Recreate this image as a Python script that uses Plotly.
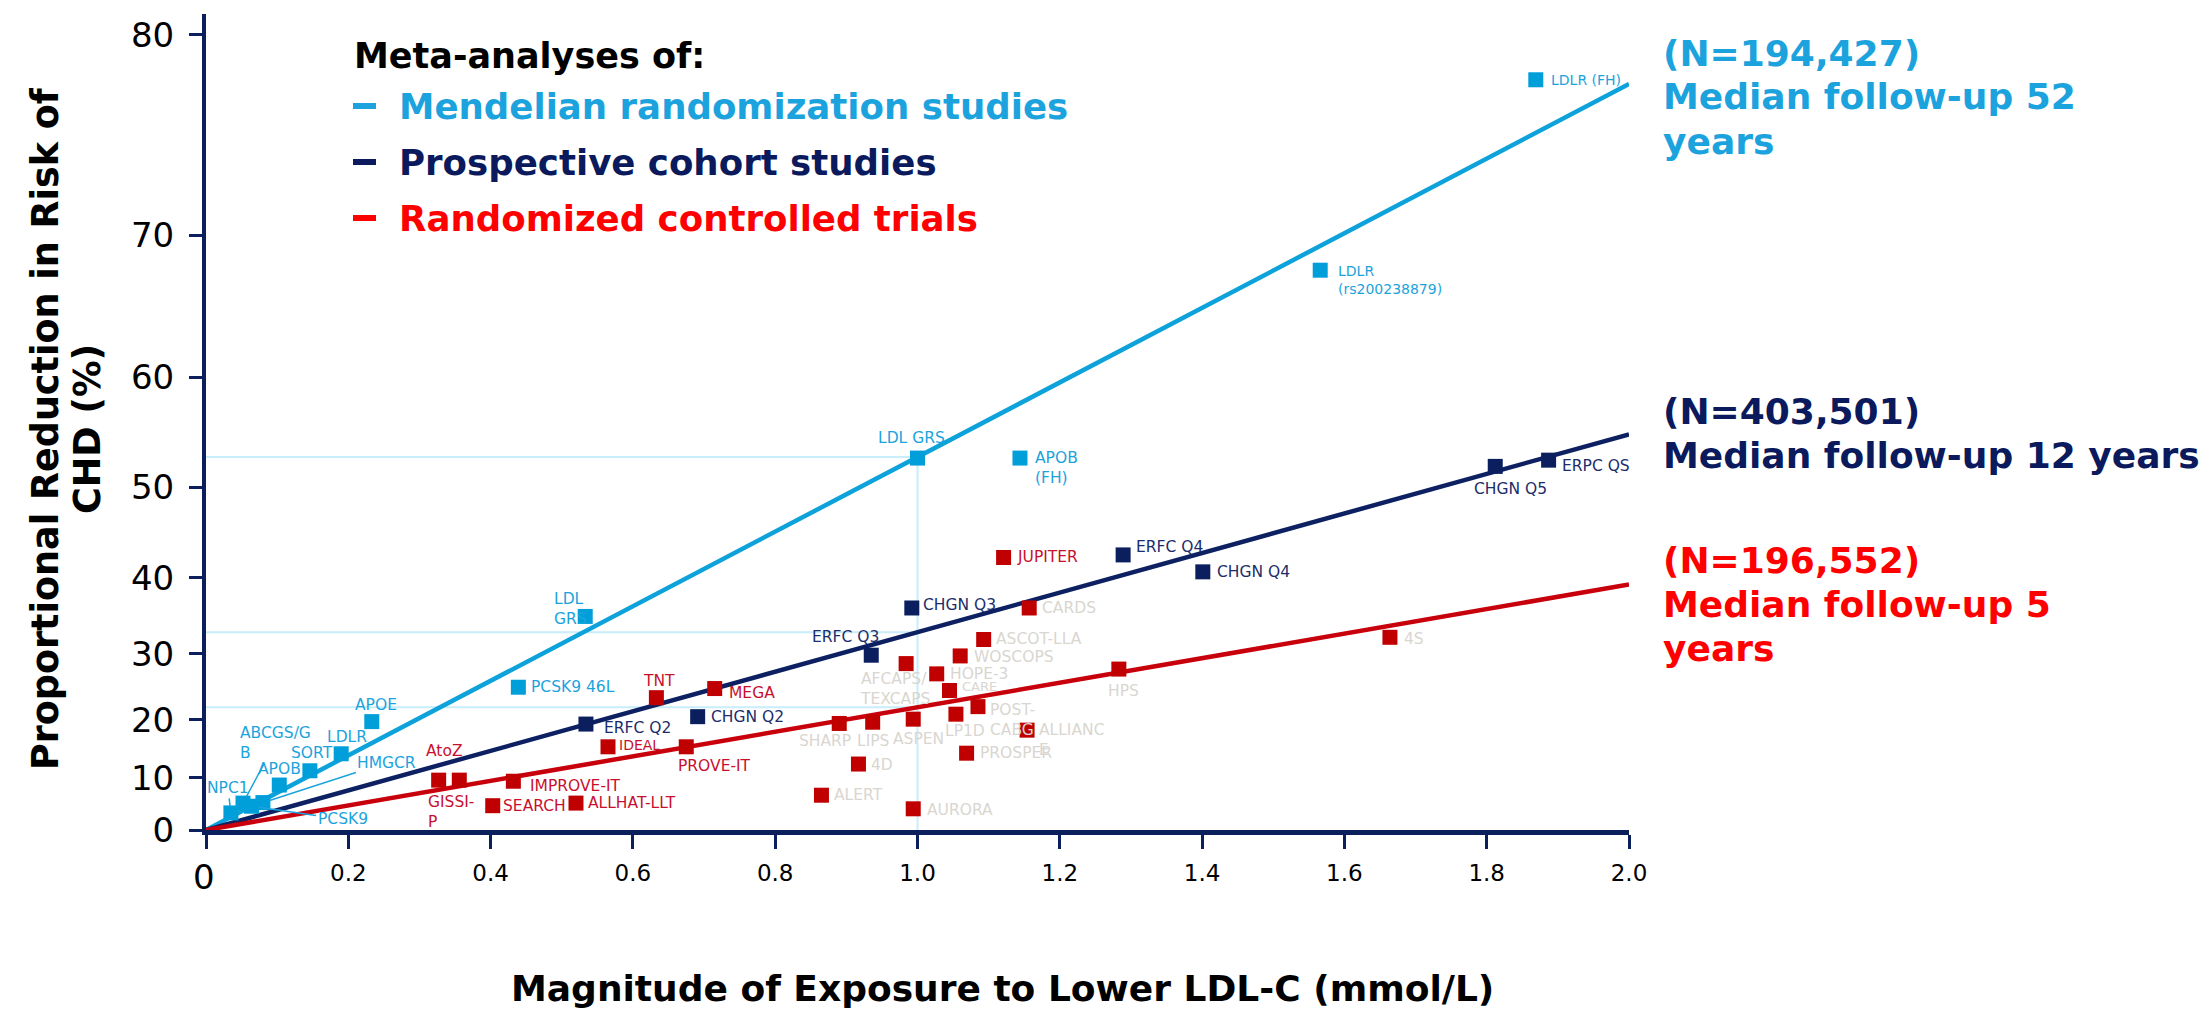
import math
import plotly.graph_objects as go

# ---------------- data ----------------
# Mendelian randomization studies: LDL-C exposure (mmol/L) and CHD risk reduction (%)
mr_names = ["NPC1", "ABCGS/G<br>B", "PCSK9", "HMGCR", "APOB", "SORT", "LDLR", "APOE",
            "PCSK9 46L", "LDL<br>GRS", "LDL GRS", "APOB<br>(FH)", "LDLR<br>(rs200238879)", "LDLR (FH)"]
mr_ldl = [0.035, 0.052, 0.064, 0.080, 0.103, 0.146, 0.190, 0.233,
          0.439, 0.533, 1.000, 1.144, 1.566, 1.869]
mr_reduction = [3.4, 5.3, 4.7, 5.4, 8.7, 11.3, 14.3, 19.7,
                25.1, 35.1, 52.9, 52.9, 67.8, 78.1]

# Prospective cohort studies
pc_names = ["ERFC Q2", "CHGN Q2", "ERFC Q3", "CHGN Q3", "ERFC Q4", "CHGN Q4", "CHGN Q5", "ERPC QS"]
pc_ldl = [0.534, 0.691, 0.935, 0.992, 1.289, 1.401, 1.812, 1.887]
pc_reduction = [19.3, 20.5, 29.8, 36.2, 42.7, 40.7, 52.1, 52.7]

# Randomized controlled trials
rct_names = ["AtoZ", "GISSI-<br>P", "IMPROVE-IT", "SEARCH", "ALLHAT-LLT", "IDEAL", "TNT",
             "PROVE-IT", "MEGA", "ALERT", "SHARP", "LIPS", "4D", "ASPEN", "AFCAPS/<br>TEXCAPS",
             "AURORA", "HOPE-3", "CARE", "LP1D", "WOSCOPS", "POST-<br>CABG", "ASCOT-LLA",
             "PROSPER", "JUPITER", "ALLIANC<br>E", "CARDS", "HPS", "4S"]
rct_ldl = [0.327, 0.356, 0.432, 0.403, 0.520, 0.565, 0.633, 0.675, 0.715, 0.865, 0.890,
           0.937, 0.917, 0.994, 0.984, 0.994, 1.027, 1.045, 1.054, 1.060, 1.085, 1.093,
           1.069, 1.121, 1.154, 1.157, 1.283, 1.664]
rct_reduction = [9.6, 9.6, 9.4, 4.8, 5.3, 15.5, 23.5, 15.5, 24.9, 6.8, 19.4, 19.6, 12.5,
                 20.1, 28.6, 4.2, 27.1, 24.6, 20.9, 29.7, 22.1, 32.0, 14.4, 42.4, 18.3,
                 36.2, 27.8, 32.3]
rct_faded = {"ALERT", "SHARP", "LIPS", "4D", "ASPEN", "AFCAPS/<br>TEXCAPS", "AURORA", "HOPE-3",
             "CARE", "LP1D", "WOSCOPS", "POST-<br>CABG", "ASCOT-LLA", "PROSPER",
             "ALLIANC<br>E", "CARDS", "HPS", "4S"}

# Pooled risk reduction per 1 mmol/L lower LDL-C (%), one per meta-analysis
group_names = ["Mendelian randomization studies", "Prospective cohort studies",
               "Randomized controlled trials"]
per_mmol_reduction = [53.0, 33.0, 22.0]
group_n = ["(N=194,427)", "(N=403,501)", "(N=196,552)"]
group_followup = [["Median follow-up 52", "years"], ["Median follow-up 12 years"],
                  ["Median follow-up 5", "years"]]

y_ticks = [0, 10, 20, 30, 40, 50, 60, 70, 80]
x_ticks = [0, 0.2, 0.4, 0.6, 0.8, 1.0, 1.2, 1.4, 1.6, 1.8, 2.0]
x_max = 2.0

# ---------------- styles ----------------
LB_MARK, LB_LINE, LB_TEXT = "#009FDA", "#0EA2DA", "#1CA3DD"
NAVY_MARK, NAVY_LINE, NAVY_TEXT = "#0B1F5F", "#0D2062", "#1C2D6A"
RED_MARK, RED_LINE, RED_TEXT, RED_BRIGHT = "#C00000", "#C8000C", "#C8102E", "#FF0000"
FADED = "#D9D6D0"
GUIDE = "#C8EDFB"
AXIS = "#0A1F5C"
FONT = "DejaVu Sans, Verdana, sans-serif"

W, H = 2207, 1012
PL, PT, PW, PH = 206, 14, 1423, 816
PX_PER_UNIT = 494.0


def risk_axis(r):
    """Map a proportional risk reduction (%) to the log relative-risk scale."""
    return -math.log(1.0 - r / 100.0)


def paper_x(px):
    return (px - PL) / PW


def paper_y(py):
    return (PT + PH - py) / PH


y_top = PH / PX_PER_UNIT

fig = go.Figure()

# guide lines at 1 mmol/L
shapes = []
for r in per_mmol_reduction:
    shapes.append(dict(type="line", xref="x", yref="y", x0=0, x1=1.0,
                       y0=risk_axis(r), y1=risk_axis(r), layer="below",
                       line=dict(color=GUIDE, width=2)))
shapes.append(dict(type="line", xref="x", yref="y", x0=1.0, x1=1.0, y0=0,
                   y1=risk_axis(per_mmol_reduction[0]), layer="below",
                   line=dict(color=GUIDE, width=2)))

# log-linear trend lines through the origin
for r, col in zip(per_mmol_reduction, [LB_LINE, NAVY_LINE, RED_LINE]):
    slope = risk_axis(r)
    fig.add_trace(go.Scatter(x=[0, x_max], y=[0, slope * x_max], mode="lines",
                             line=dict(color=col, width=4.5), hoverinfo="skip",
                             showlegend=False))

# study markers
for xs, rs, col in [(mr_ldl, mr_reduction, LB_MARK), (pc_ldl, pc_reduction, NAVY_MARK),
                    (rct_ldl, rct_reduction, RED_MARK)]:
    fig.add_trace(go.Scatter(x=xs, y=[risk_axis(r) for r in rs], mode="markers",
                             marker=dict(symbol="square", size=15, color=col,
                                         line=dict(width=0)),
                             showlegend=False))

# label placement: (dx, dy, anchor, size) in pixels from the marker centre
label_pos = {
    "APOB": (0, -16, "center", None), "SORT": (2, -18, "center", None),
    "LDLR": (6, -17, "center", None), "APOE": (4, -17, "center", None),
    "PCSK9 46L": (11, 0, "left", None), "LDL<br>GRS": (-33, -7, "left", None),
    "LDL GRS": (-6, -20, "center", None), "APOB<br>(FH)": (13, 10, "left", None),
    "LDLR<br>(rs200238879)": (16, 10, "left", 14), "LDLR (FH)": (13, 0, "left", 14),
    "ERFC Q2": (16, 4, "left", None), "CHGN Q2": (11, 0, "left", None),
    "ERFC Q3": (-26, -18, "center", None), "CHGN Q3": (9, -3, "left", None),
    "ERFC Q4": (11, -8, "left", None), "CHGN Q4": (12, 0, "left", None),
    "CHGN Q5": (15, 23, "center", None), "ERPC QS": (11, 6, "left", None),
    "AtoZ": (6, -29, "center", None), "GISSI-<br>P": (-33, 32, "left", None),
    "IMPROVE-IT": (15, 5, "left", None), "SEARCH": (8, 0, "left", None),
    "ALLHAT-LLT": (10, 0, "left", None), "IDEAL": (9, -2, "left", 14),
    "TNT": (3, -17, "center", None), "PROVE-IT": (-10, 19, "left", None),
    "MEGA": (12, 4, "left", None), "JUPITER": (11, 0, "left", None),
    "CARDS": (11, 0, "left", None), "ASCOT-LLA": (10, 0, "left", None),
    "WOSCOPS": (12, 1, "left", None), "AFCAPS/<br>TEXCAPS": (-48, 25, "left", None),
    "HOPE-3": (11, 0, "left", None), "CARE": (10, -4, "left", 13),
    "HPS": (5, 22, "center", None), "POST-<br>CABG": (10, 13, "left", None),
    "LP1D": (9, 17, "center", None), "SHARP": (-14, 18, "center", None),
    "LIPS": (0, 19, "center", None), "ASPEN": (5, 20, "center", None),
    "ALLIANC<br>E": (10, 10, "left", None), "PROSPER": (11, 0, "left", None),
    "4D": (11, 1, "left", None), "ALERT": (11, 0, "left", None),
    "AURORA": (12, 1, "left", None), "4S": (12, 2, "left", None),
}
# labels joined to their marker by a leader line: (label offset x, y)
leader_pos = {"NPC1": (-3, -25), "ABCGS/G<br>B": (32, -60), "PCSK9": (91, 13),
              "HMGCR": (124, -40)}

annotations = []
LABEL_SIZE = 15.5


def add_labels(names, xs, rs, color_fn):
    for name, x, r in zip(names, xs, rs):
        col = color_fn(name)
        if name in leader_pos:
            ax, ay = leader_pos[name]
            annotations.append(dict(x=x, y=risk_axis(r), xref="x", yref="y", text=name,
                                    showarrow=True, arrowhead=0, arrowwidth=1.5,
                                    arrowcolor=col, ax=ax, ay=ay, standoff=7, align="left",
                                    font=dict(size=LABEL_SIZE, color=col, family=FONT)))
            continue
        dx, dy, anchor, size = label_pos[name]
        annotations.append(dict(x=x, y=risk_axis(r), xref="x", yref="y", text=name,
                                showarrow=False, xanchor=anchor, yanchor="middle",
                                xshift=dx, yshift=-dy, align="left",
                                font=dict(size=size or LABEL_SIZE, color=col, family=FONT)))


add_labels(mr_names, mr_ldl, mr_reduction, lambda n: LB_TEXT)
add_labels(pc_names, pc_ldl, pc_reduction, lambda n: NAVY_TEXT)
add_labels(rct_names, rct_ldl, rct_reduction,
           lambda n: FADED if n in rct_faded else RED_TEXT)


def text_at(px, py, text, size, color, anchor="left", bold=True, angle=0):
    annotations.append(dict(x=paper_x(px), y=paper_y(py), xref="paper", yref="paper",
                            text=f"<b>{text}</b>" if bold else text, showarrow=False,
                            xanchor=anchor, yanchor="middle", textangle=angle,
                            font=dict(size=size, color=color, family=FONT)))


# key
text_at(352, 56, "Meta-analyses of:", 35, "#000000")
legend_cols = [LB_TEXT, "#0A1A5C", RED_BRIGHT]
for i, (name, col) in enumerate(zip(group_names, legend_cols)):
    yy = 106 + i * 56
    text_at(397, yy, name, 35.6, col)
    shapes.append(dict(type="line", xref="paper", yref="paper", x0=paper_x(353),
                       x1=paper_x(376), y0=paper_y(yy), y1=paper_y(yy),
                       line=dict(color=col, width=6)))

# study size and follow-up beside each line
block_top = [53, 411, 560]
for n_text, fu, col, y0 in zip(group_n, group_followup, legend_cols, block_top):
    text_at(1661, y0, n_text, 36, col)
    for j, line in enumerate(fu):
        text_at(1661, y0 + 44 * (j + 1), line, 36, col)

# axis titles
text_at(1002, 988, "Magnitude of Exposure to Lower LDL-C (mmol/L)", 36, "#000000",
        anchor="center")
text_at(45, 429, "Proportional Reduction in Risk of", 36.5, "#000000", anchor="center",
        angle=-90)
text_at(87, 429, "CHD (%)", 36.5, "#000000", anchor="center", angle=-90)
# origin label of the x axis
text_at(204, 877, "0", 34, "#000000", anchor="center", bold=False)

fig.update_layout(
    width=W, height=H,
    margin=dict(l=PL, r=W - PL - PW, t=PT, b=H - PT - PH, pad=0),
    paper_bgcolor="white", plot_bgcolor="white",
    font=dict(family=FONT, color="#000000"),
    shapes=shapes, annotations=annotations, showlegend=False,
    xaxis=dict(range=[0, x_max], tickmode="array", tickvals=x_ticks,
               ticktext=["" if v == 0 else f"{v:.1f}" for v in x_ticks],
               showgrid=False, zeroline=False, showline=True, linecolor=AXIS,
               linewidth=5, ticks="outside", ticklen=14, tickwidth=3, tickcolor=AXIS,
               tickfont=dict(size=23, color="#000000", family=FONT),
               ticklabelstandoff=4),
    yaxis=dict(range=[0, y_top], tickmode="array",
               tickvals=[risk_axis(v) for v in y_ticks],
               ticktext=[str(v) for v in y_ticks],
               showgrid=False, zeroline=False, showline=True, linecolor=AXIS,
               linewidth=4, ticks="outside", ticklen=13, tickwidth=3, tickcolor=AXIS,
               tickfont=dict(size=34, color="#000000", family=FONT),
               ticklabelstandoff=8),
)

fig.write_html("out.html")
